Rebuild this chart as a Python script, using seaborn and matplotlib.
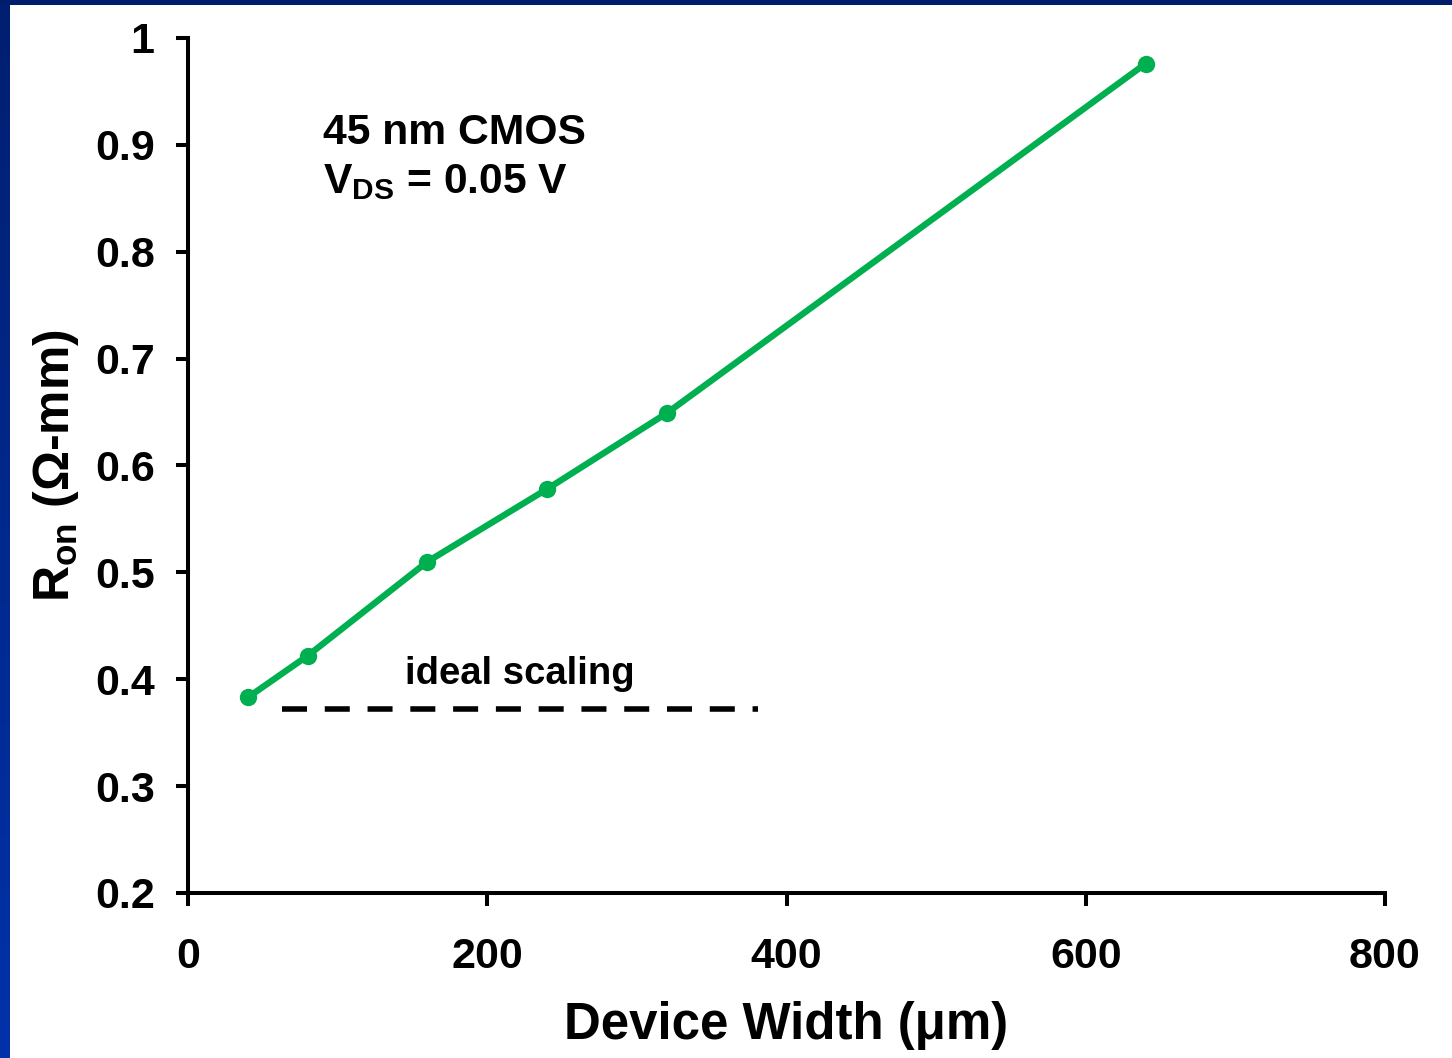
import numpy as np
import pandas as pd
import seaborn as sns
import matplotlib
matplotlib.use("Agg")
import matplotlib.pyplot as plt
from matplotlib.colors import LinearSegmentedColormap

# Data
device_width = [40, 80, 160, 240, 320, 640]
r_on = [0.383, 0.422, 0.510, 0.578, 0.649, 0.976]
ideal_x = [63, 381]
ideal_y = [0.372, 0.372]
x_ticks = [0, 200, 400, 600, 800]
y_ticks = [0.2, 0.3, 0.4, 0.5, 0.6, 0.7, 0.8, 0.9, 1.0]
y_tick_labels = ["0.2", "0.3", "0.4", "0.5", "0.6", "0.7", "0.8", "0.9", "1"]

sns.set_style("ticks")
plt.rcParams['font.family'] = ['Liberation Sans', 'DejaVu Sans']
plt.rcParams['font.weight'] = 'bold'
plt.rcParams['mathtext.fontset'] = 'custom'
plt.rcParams['mathtext.rm'] = 'Liberation Sans:bold'
plt.rcParams['mathtext.bf'] = 'Liberation Sans:bold'
plt.rcParams['mathtext.it'] = 'Liberation Sans:bold'
for k in ['text.color', 'axes.labelcolor', 'xtick.color', 'ytick.color', 'axes.edgecolor']:
    plt.rcParams[k] = 'black'

W, H = 1452, 1058
fig = plt.figure(figsize=(W / 100, H / 100), dpi=100, facecolor='white')

# frame: left gradient strip and top strip
strip = fig.add_axes([0, 0, 10 / W, 1])
grad = np.linspace(0, 1, 256).reshape(-1, 1)
cmap = LinearSegmentedColormap.from_list('b', ['#001F70', '#0032AA'])
strip.imshow(grad, aspect='auto', cmap=cmap, origin='upper')
strip.set_axis_off()
top = fig.add_axes([0, 1 - 5 / H, 1, 5 / H])
top.set_facecolor('#001E6E')
top.set_xticks([]); top.set_yticks([])
for s in top.spines.values():
    s.set_visible(False)

ax = fig.add_axes([188 / W, 165 / H, (1385 - 188) / W, (893 - 38) / H])
df = pd.DataFrame({'w': device_width, 'r': r_on})
sns.lineplot(data=df, x='w', y='r', ax=ax, color='#00B050', linewidth=4.6,
             marker='o', markersize=12.5, markeredgewidth=0, clip_on=False)
ideal = pd.DataFrame({'x': ideal_x, 'y': ideal_y})
sns.lineplot(data=ideal, x='x', y='y', ax=ax, color='black', linewidth=4.0,
             linestyle=(0, (4.5, 3.2)))
ax.lines[-1].set_dash_capstyle('butt')

ax.set_xlim(0, 800)
ax.set_ylim(0.2, 1.0)
ax.set_xticks(x_ticks)
ax.set_xticklabels([str(t) for t in x_ticks])
ax.set_yticks(y_ticks)
ax.set_yticklabels(y_tick_labels)
ax.tick_params(axis='both', direction='out', length=9, width=2.9, labelsize=31, color='black',
               labelcolor='black')
ax.tick_params(axis='y', pad=15)
ax.tick_params(axis='x', pad=23)
for s in ['top', 'right']:
    ax.spines[s].set_visible(False)
for s in ['left', 'bottom']:
    ax.spines[s].set_linewidth(2.9)
    ax.spines[s].set_color('black')
ax.set_facecolor('white')

ax.set_xlabel('Device Width (μm)', fontsize=36.7, fontweight='bold', labelpad=17, color='black')
ax.set_ylabel('R$_{\\rm on}$ (Ω-mm)', fontsize=36, fontweight='bold', labelpad=10, color='black')

ax.text(90, 0.93, '45 nm CMOS\nV$_{\\rm DS}$ = 0.05 V', fontsize=30.7, fontweight='bold',
        ha='left', va='top', linespacing=1.3, color='black')
ax.text(222, 0.405, 'ideal scaling', fontsize=27.5, fontweight='bold', ha='center', va='center',
        color='black')

fig.savefig('out.png', dpi=100, facecolor='white')
